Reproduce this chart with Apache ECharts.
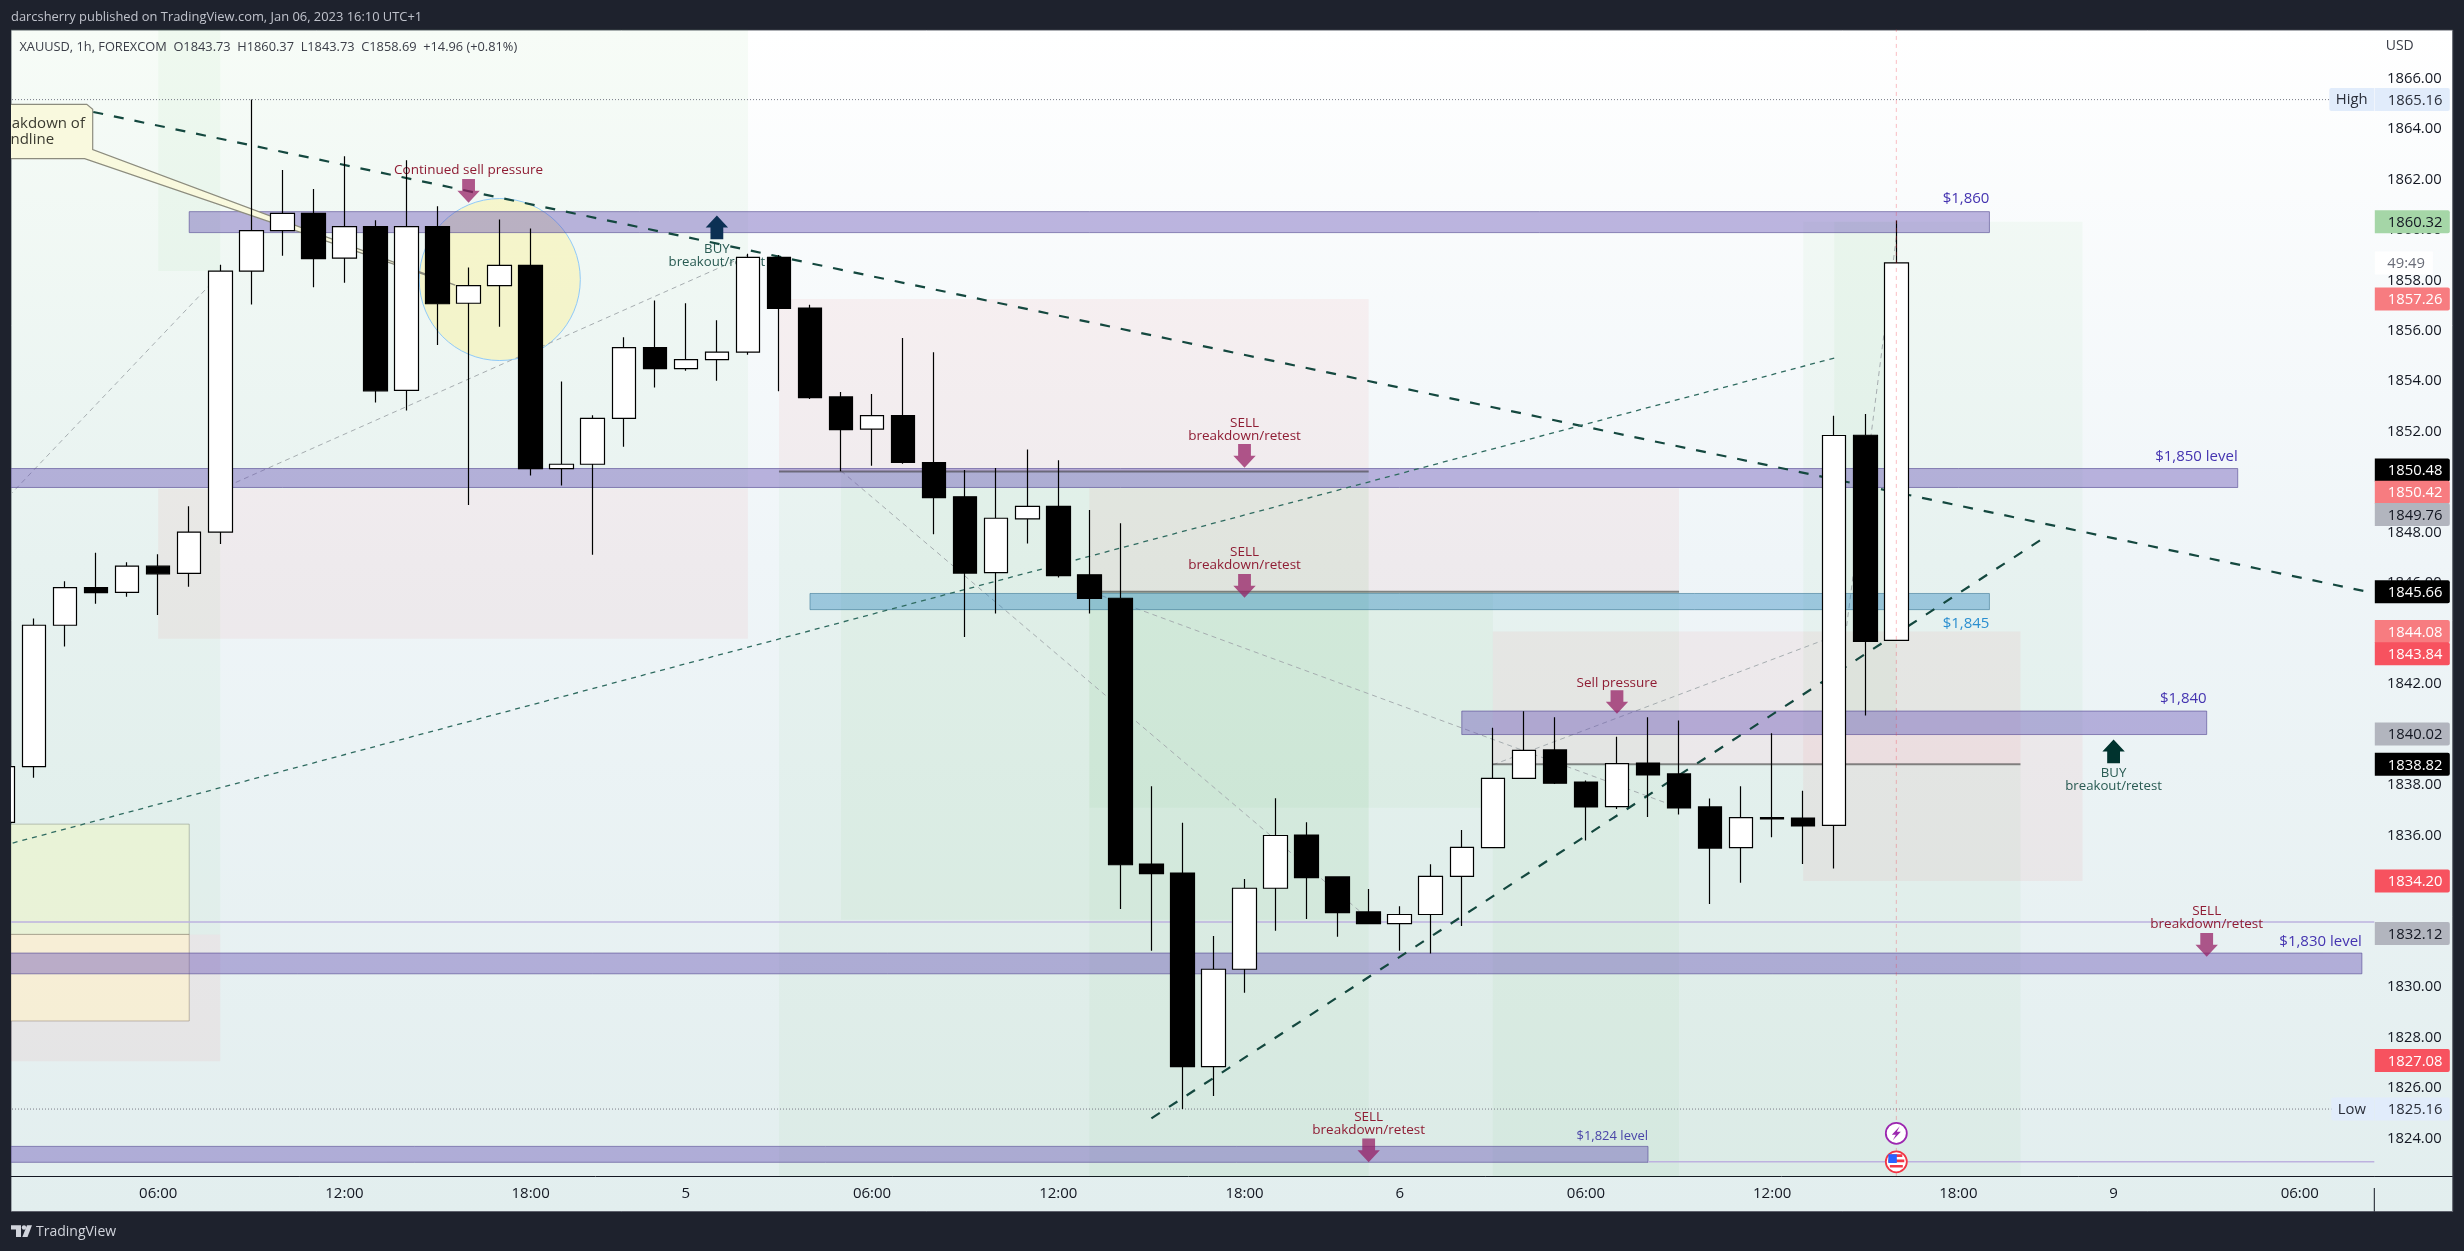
<!DOCTYPE html>
<html><head><meta charset="utf-8">
<style>html,body{margin:0;padding:0;background:#1e222d}#c{width:2464px;height:1251px}</style>
<script src="https://cdn.jsdelivr.net/npm/echarts@6/dist/echarts.min.js"></script>
</head><body><div id="c"></div>
<script>
const FONT = '"Open Sans","Noto Sans",sans-serif';
// ---- candles (hourly bars, index = bar number) ----
const opens  = [1836.52,1838.73,1844.33,1845.82,1845.63,1846.67,1846.39,1848.02,1858.36,1859.97,1860.65,1858.88,1860.13,1853.64,1860.13,1857.09,1857.79,1858.59,1850.54,1850.71,1852.53,1855.33,1854.50,1854.86,1855.15,1858.91,1856.90,1853.38,1852.10,1852.64,1850.78,1849.42,1846.42,1848.55,1849.04,1846.33,1845.40,1834.87,1834.51,1826.84,1830.70,1833.91,1836.02,1834.36,1832.97,1832.51,1832.87,1834.38,1835.52,1838.26,1839.39,1838.12,1837.14,1838.87,1838.44,1837.13,1835.52,1836.71,1836.69,1836.40,1851.86,1843.73];
const closes = [1838.73,1844.33,1845.82,1845.62,1846.67,1846.37,1848.02,1858.36,1859.97,1860.65,1858.86,1860.13,1853.62,1860.13,1857.07,1857.79,1858.59,1850.54,1850.71,1852.53,1855.33,1854.50,1854.86,1855.15,1858.91,1856.89,1853.35,1852.08,1852.64,1850.78,1849.39,1846.40,1848.57,1849.04,1846.30,1845.39,1834.84,1834.49,1826.84,1830.70,1833.91,1836.00,1834.33,1832.94,1832.51,1832.87,1834.38,1835.53,1838.26,1839.37,1838.07,1837.13,1838.85,1838.40,1837.09,1835.50,1836.71,1836.66,1836.38,1851.85,1843.69,1858.69];
const lows   = [1836.30,1838.29,1843.49,1845.18,1845.46,1844.74,1845.86,1847.55,1857.04,1858.97,1857.72,1857.90,1853.16,1852.84,1855.44,1849.10,1856.16,1850.26,1849.87,1847.12,1851.40,1853.75,1854.42,1854.02,1855.05,1853.60,1853.30,1850.43,1850.65,1850.73,1847.94,1843.87,1844.80,1847.57,1846.22,1844.80,1833.09,1831.43,1825.16,1825.68,1829.77,1832.23,1832.69,1831.99,1832.51,1831.43,1831.32,1832.41,1835.50,1838.26,1838.04,1835.80,1837.05,1836.73,1836.83,1833.29,1834.13,1835.93,1834.87,1834.69,1840.75,1843.73];
const highs  = [1838.90,1844.60,1846.07,1847.20,1846.83,1847.14,1849.05,1858.62,1865.16,1862.37,1861.62,1862.92,1860.38,1862.76,1860.93,1858.51,1860.41,1860.05,1853.99,1852.65,1855.74,1857.20,1857.09,1856.42,1859.05,1859.00,1857.03,1853.57,1853.49,1855.71,1855.15,1850.48,1850.56,1851.30,1850.87,1848.90,1848.37,1837.95,1836.50,1832.02,1834.28,1837.48,1836.52,1834.36,1833.88,1833.20,1834.86,1836.22,1840.27,1840.92,1840.69,1838.18,1839.91,1840.69,1840.56,1837.47,1837.95,1840.05,1837.77,1852.63,1852.70,1860.37];
// ---- axes ----
const timeTickBars   = [5,11,17,22,28,34,40,45,51,57,63,68,74];
const timeTickLabels = ['06:00','12:00','18:00','5','06:00','12:00','18:00','6','06:00','12:00','18:00','9','06:00'];
// ---- price tags on the scale ----
const tagPrices = [1865.16,1860.32,1857.26,1850.48,1850.42,1849.76,1845.66,1844.08,1843.84,1840.02,1838.82,1834.20,1832.12,1827.08,1825.16];
const tagKinds  = ['hl','green','salmon','black','salmon','grey','black','salmon','red','grey','black','red','grey','red','hl'];
const tagNames  = ['High','','','','','','','','','','','','','','Low'];
const lastClose = 1858.69;
const plotFloor = 1822.49;
// ---- drawn levels [firstBar,lastBar,top,bottom] ----
const purpleBands = [[6,64,1860.72,1859.89],[0,72,1850.54,1849.79],[47,71,1840.93,1840.00],[0,76,1831.34,1830.52],[0,53,1823.68,1823.05]];
const blueBands   = [[26,64,1845.59,1844.95]];
const greenZones  = [[0,7,1868,1858.37],[7,24,1868,1858.93],[0,7,1858.37,1832.08],[5,7,1868,1858.37],[7,24,1858.93,1849.74],[25,44,1850.42,plotFloor],[27,44,1850.42,1832.66],[35,54,1845.66,plotFloor],[35,48,1845.66,1837.1],[48,65,1838.82,plotFloor],[58,67,1860.32,1840.02],[59,61,1860.32,1840.02]];
const redZones    = [[5,24,1849.74,1843.80],[0,7,1832.08,1827.05],[25,44,1857.26,1850.42],[35,54,1849.76,1845.66],[48,65,1844.08,1838.82],[58,67,1840.02,1834.20]];
const yellowBox   = [[0,6,1836.45,1832.08]];
const orangeBox   = [[0,6,1832.08,1828.65]];
// ---- lines [bar0,price0,bar1,price1] ----
const heavyTrends = [[2.91,1864.67,76.09,1845.68],[37,1824.79,65.8,1847.83]];
const lightTrend  = [[0,1835.6,59,1854.92]];
const greyPaths   = [[0,1849.2,7,1858.25],[7.5,1849.99,24,1859.0],[27,1850.45,44,1832.7],[35.4,1845.5,54,1837.1],[48,1838.8,59,1843.9],[59.4,1844.3,61,1859.7]];
const entryLines  = [[25,1850.42,44,1850.42],[35,1845.66,54,1845.66],[48,1838.82,65,1838.82]];
const thinPurple  = [[0,1832.57,76.4,1832.57],[53,1823.07,76.4,1823.07]];
const extremeDots = [[0,1865.16,75,1865.16],[0,1825.16,75.05,1825.16]];
const lastBarMark = [[61,1868,61,plotFloor]];
const circleMark  = [[13.41,18.6,1861.24,1854.82]]; // bar range, price range of the ellipse
const calloutOutline = [[-1,1864.97],[2.7,1864.97],[2.89,1864.78],[2.89,1863.18],[14.57,1857.81],[2.63,1862.82],[-1,1862.82]];
// ---- notes [bar,price,text] ----
const sellNotes = [[15,1862.36,'Continued sell pressure'],[40,1852.35,'SELL'],[40,1851.82,'breakdown/retest'],[40,1847.23,'SELL'],[40,1846.71,'breakdown/retest'],[52,1842.04,'Sell pressure'],[71,1833.02,'SELL'],[71,1832.49,'breakdown/retest'],[44,1824.84,'SELL'],[44,1824.32,'breakdown/retest']];
const buyNotes  = [[23,1859.24,'BUY'],[23,1858.72,'breakout/retest'],[68,1838.45,'BUY'],[68,1837.94,'breakout/retest']];
const levelNotes = [[64,1861.25,'$1,860'],[72,1851.02,'$1,850 level'],[71,1841.43,'$1,840'],[76,1831.80,'$1,830 level']];
const blueNotes  = [[64,1844.40,'$1,845']];
const smallNotes = [[53,1824.08,'$1,824 level']];
const calloutNotes = [[-0.5,1864.19,'Breakdown of'],[-0.4,1863.58,'trendline']];
const sellArrows = [[15,1861.07],[40,1850.57],[40,1845.42],[52,1840.82],[71,1831.2],[44,1823.05]];
const buyArrowsNavy = [[23,1860.57]];
const buyArrowsTeal = [[68,1839.8]];
const eventIcons = [[61,1824.2],[61,1823.07]];

const chart = echarts.init(document.getElementById('c'), null, {renderer:'canvas', width:2464, height:1251});

function custom(name, data, z, renderItem, clip){
  return {type:'custom', name, data:data.map(r=>r.filter(v=>typeof v==='number')), z, silent:true, clip:clip!==false, renderItem,
          encode:{x:0,y:1}, animation:false};
}
function rects(name, data, z, style){
  return custom(name, data, z, (p,api)=>{
    const r=data[p.dataIndex], a=api.coord([r[0],r[2]]), b=api.coord([r[1],r[3]]);
    return {type:'rect', shape:{x:a[0],y:a[1],width:b[0]-a[0],height:b[1]-a[1]}, style:Object.assign({},style)};
  });
}
function lines(name, data, z, style){
  return custom(name, data, z, (p,api)=>{
    const r=data[p.dataIndex], a=api.coord([r[0],r[1]]), b=api.coord([r[2],r[3]]);
    return {type:'line', shape:{x1:a[0],y1:a[1],x2:b[0],y2:b[1]}, style:Object.assign({fill:null},style)};
  });
}
function notes(name, data, z, fill, size, align){
  return custom(name, data, z, (p,api)=>{
    const r=data[p.dataIndex], a=api.coord([r[0],r[1]]);
    return {type:'text', style:{x:a[0],y:a[1],text:r[2],fill,font:size+'px '+FONT,align:align,verticalAlign:'middle'}};
  });
}
function arrows(name, data, z, fill, up){
  return custom(name, data, z, (p,api)=>{
    const r=data[p.dataIndex], a=api.coord([r[0],r[1]]), s=up?1:-1, x=a[0], y=a[1];
    const pts=[[x,y],[x+11.2,y+s*12],[x+6.4,y+s*12],[x+6.4,y+s*23.7],[x-6.4,y+s*23.7],[x-6.4,y+s*12],[x-11.2,y+s*12]];
    return {type:'polygon', shape:{points:pts}, style:{fill}};
  });
}
const tagStyle = {hl:['#e1ecfb','#2a2e39'],green:['#a5d6a7','#131722'],salmon:['#f77c80','#ffffff'],black:['#000000','#ffffff'],grey:['#b2b5be','#131722'],red:['#f7525f','#ffffff']};

const series = [
  rects('green zones', greenZones, 1, {fill:'rgba(76,175,80,0.042)'}),
  rects('red zones', redZones, 1, {fill:'rgba(229,57,53,0.055)'}),
  rects('yellow box', yellowBox, 2, {fill:'rgba(236,245,205,0.65)',stroke:'rgba(120,130,110,0.45)',lineWidth:1}),
  rects('orange box', orangeBox, 2, {fill:'rgba(255,243,205,0.65)',stroke:'rgba(130,115,100,0.45)',lineWidth:1}),
  custom('ellipse', circleMark, 3, (p,api)=>{
    const r=circleMark[p.dataIndex], a=api.coord([r[0],r[2]]), b=api.coord([r[1],r[3]]);
    return {type:'ellipse', shape:{cx:(a[0]+b[0])/2,cy:(a[1]+b[1])/2,rx:(b[0]-a[0])/2,ry:(b[1]-a[1])/2}, style:{fill:'rgba(255,241,118,0.32)',stroke:'#90caf9',lineWidth:1}};
  }),
  lines('grey paths', greyPaths, 3, {stroke:'#a6adb0',lineWidth:1,lineDash:[5,4]}),
  rects('purple bands', purpleBands, 4, {fill:'rgba(103,80,180,0.42)',stroke:'rgba(90,80,150,0.65)',lineWidth:1}),
  rects('blue band', blueBands, 4, {fill:'rgba(33,130,190,0.38)',stroke:'rgba(60,120,150,0.6)',lineWidth:1}),
  lines('entry lines', entryLines, 4, {stroke:'rgba(60,60,60,0.6)',lineWidth:2}),
  lines('thin purple', thinPurple, 4, {stroke:'#bdb2df',lineWidth:1.6}),
  lines('extremes', extremeDots, 4, {stroke:'#787b86',lineWidth:1,lineDash:[1,2]}),
  custom('callout', calloutOutline, 5, (p,api)=>{
    if(p.dataIndex>0) return null;
    return {type:'polygon', shape:{points:calloutOutline.map(q=>api.coord(q))}, style:{fill:'#f9f9de',stroke:'#8c8c7e',lineWidth:1.2}};
  }),
  notes('callout text', calloutNotes, 5, '#3a3a30', 15, 'left'),
  lines('heavy trends', heavyTrends, 5, {stroke:'#14483f',lineWidth:2.2,lineDash:[10,11]}),
  lines('light trend', lightTrend, 5, {stroke:'#2f6b60',lineWidth:1.3,lineDash:[5,5]}),
  arrows('sell arrows', sellArrows, 6, 'rgba(150,30,100,0.74)', false),
  arrows('buy navy', buyArrowsNavy, 6, '#0c3054', true),
  arrows('buy teal', buyArrowsTeal, 6, '#00332e', true),
  notes('sell notes', sellNotes, 6, '#8f1d34', 13.5, 'center'),
  notes('buy notes', buyNotes, 6, '#285a52', 13.2, 'center'),
  notes('level notes', levelNotes, 6, '#4433b0', 15, 'right'),
  notes('blue notes', blueNotes, 6, '#2b8fd0', 15, 'right'),
  notes('small notes', smallNotes, 6, '#4a45a8', 13, 'right'),
  {type:'candlestick', name:'XAUUSD', z:8, barWidth:24, clip:true, silent:true,
   itemStyle:{color:'#ffffff',color0:'#000000',borderColor:'#000000',borderColor0:'#000000',borderWidth:1.2},
   data:opens.map((o,k)=>[k,o,closes[k],lows[k],highs[k]])},
  lines('last bar', lastBarMark, 9, {stroke:'rgba(242,54,69,0.32)',lineWidth:1,lineDash:[4,4]}),
  custom('events', eventIcons, 10, (p,api)=>{
    const r=eventIcons[p.dataIndex], a=api.coord(r), x=a[0], y=a[1];
    if(p.dataIndex===0) return {type:'group',children:[
      {type:'circle',shape:{cx:x,cy:y,r:10.5},style:{fill:'#ffffff',stroke:'#9c27b0',lineWidth:1.8}},
      {type:'polygon',shape:{points:[[x+3.5,y-7],[x-4.5,y+1.5],[x-0.5,y+1.5],[x-3.5,y+7],[x+4.5,y-1.5],[x+0.5,y-1.5]]},style:{fill:'#9c27b0'}}]};
    return {type:'group',children:[
      {type:'circle',shape:{cx:x,cy:y,r:10.5},style:{fill:'#ffffff',stroke:'#f23645',lineWidth:1.8}},
      {type:'rect',shape:{x:x-6,y:y-7.5,width:12,height:2.6},style:{fill:'#f23645'}},
      {type:'rect',shape:{x:x-8,y:y-2.2,width:16,height:2.6},style:{fill:'#f23645'}},
      {type:'rect',shape:{x:x-6.5,y:y+3.2,width:13,height:2.6},style:{fill:'#f23645'}},
      {type:'rect',shape:{x:x-8,y:y-7.5,width:8.5,height:8.6},style:{fill:'#2962ff'}}]};
  }),
  custom('timer', [[76.4,lastClose]], 19, (p,api)=>{
    const a=api.coord([76.4,lastClose]);
    return {type:'group',children:[
      {type:'rect',shape:{x:a[0]+0.5,y:a[1]-11.5,width:58,height:23},style:{fill:'#ffffff'}},
      {type:'text',style:{x:a[0]+13,y:a[1]+1,text:'49:49',fill:'#6a6d78',font:'14.8px '+FONT,verticalAlign:'middle'}}]};
  }, false),
  custom('price tags', tagPrices.map(v=>[76.4,v]), 20, (p,api)=>{
    const ys=[]; tagPrices.forEach((v,k)=>{let y=api.coord([76.4,v])[1]; if(k>0&&y<ys[k-1]+22.2) y=ys[k-1]+22.2; ys.push(y);});
    const k=p.dataIndex, x=api.coord([76.4,tagPrices[k]])[0], y=ys[k], st=tagStyle[tagKinds[k]], nm=tagNames[k];
    const out=[{type:'rect',shape:{x:x+0.5,y:y-11.5,width:75,height:23,r:[0,2,2,0]},style:{fill:st[0]}},
      {type:'text',style:{x:x+13.5,y:y+1,text:tagPrices[k].toFixed(2),fill:st[1],font:'14.8px '+FONT,verticalAlign:'middle'}}];
    if(nm){const w=nm==='High'?45:43; out.unshift({type:'rect',shape:{x:x-w,y:y-11.5,width:w,height:23,r:[2,0,0,2]},style:{fill:st[0]}});
      out.push({type:'text',style:{x:x-w+6.5,y:y+0.5,text:nm,fill:st[1],font:'14.8px '+FONT,verticalAlign:'middle'}});}
    return {type:'group',children:out};
  }, false)
];

chart.setOption({
  animation:false,
  backgroundColor:'#1e222d',
  grid:{left:1.5,right:89.7,top:27.93,bottom:1251-1188.8,containLabel:false,show:false},
  xAxis:{type:'value',min:0,max:76.4,interval:1,offset:-12.3,splitLine:{show:false},axisTick:{show:false},
    axisLine:{show:true,onZero:false,lineStyle:{color:'#131722',width:1}},
    axisLabel:{margin:9.5,color:'#131722',fontFamily:FONT,fontSize:15,hideOverlap:false,showMinLabel:true,showMaxLabel:true,
      formatter:v=>{const k=timeTickBars.indexOf(v);return k>=0?timeTickLabels[k]:'';}}},
  yAxis:{type:'value',position:'right',min:1822,max:1868,interval:2,scale:true,splitLine:{show:false},axisTick:{show:false},
    axisLine:{show:true,lineStyle:{color:'#131722',width:1}},
    axisLabel:{margin:12.7,color:'#131722',fontFamily:FONT,fontSize:14.8,align:'left',padding:[2,0,0,0],
      formatter:v=>(v===1868||v===1822)?'':v.toFixed(2)}},
  series,
  graphic:{elements:[
    {type:'rect',z:-10,silent:true,shape:{x:11,y:30,width:2441.7,height:1181.5},
     style:{stroke:'#5d606b',lineWidth:1,fill:new echarts.graphic.LinearGradient(0,0,0,1,[{offset:0,color:'#ffffff'},{offset:0.45,color:'#eff5f8'},{offset:1,color:'#e2eeee'}])}},
    {type:'rect',z:100,silent:true,shape:{x:0,y:0,width:2464,height:29.5},style:{fill:'#1e222d'}},
    {type:'rect',z:100,silent:true,shape:{x:0,y:0,width:11,height:1251},style:{fill:'#1e222d'}},
    {type:'line',z:30,silent:true,shape:{x1:2374.3,y1:1176.5,x2:2452.7,y2:1176.5},style:{stroke:'#131722',lineWidth:1}},
    {type:'line',z:30,silent:true,shape:{x1:2374.3,y1:1188,x2:2374.3,y2:1211.5},style:{stroke:'#131722',lineWidth:1}},
    {type:'text',z:101,silent:true,style:{x:11,y:17,text:'darcsherry published on TradingView.com, Jan 06, 2023 16:10 UTC+1',fill:'#c0c3cc',font:'12.9px '+FONT,verticalAlign:'middle'}},
    {type:'text',z:101,silent:true,style:{x:19.4,y:47,text:'XAUUSD, 1h, FOREXCOM  O1843.73  H1860.37  L1843.73  C1858.69  +14.96 (+0.81%)',fill:'#3a3d47',font:'12.8px '+FONT,verticalAlign:'middle'}},
    {type:'text',z:101,silent:true,style:{x:2385.7,y:46.5,text:'USD',fill:'#3a3d47',font:'14px '+FONT,verticalAlign:'middle'}},
    {type:'polygon',z:101,silent:true,shape:{points:[[11,1225.3],[21,1225.3],[21,1237],[16,1237],[16,1229.5],[11,1229.5]]},style:{fill:'#d1d4dc'}},
    {type:'circle',z:101,silent:true,shape:{cx:24,cy:1227.5,r:2.2},style:{fill:'#d1d4dc'}},
    {type:'polygon',z:101,silent:true,shape:{points:[[27,1225.3],[32,1225.3],[27.5,1237],[22.3,1237]]},style:{fill:'#d1d4dc'}},
    {type:'text',z:101,silent:true,style:{x:36,y:1232,text:'TradingView',fill:'#d1d4dc',font:'14px '+FONT,verticalAlign:'middle'}}
  ]}
});
</script></body></html>
